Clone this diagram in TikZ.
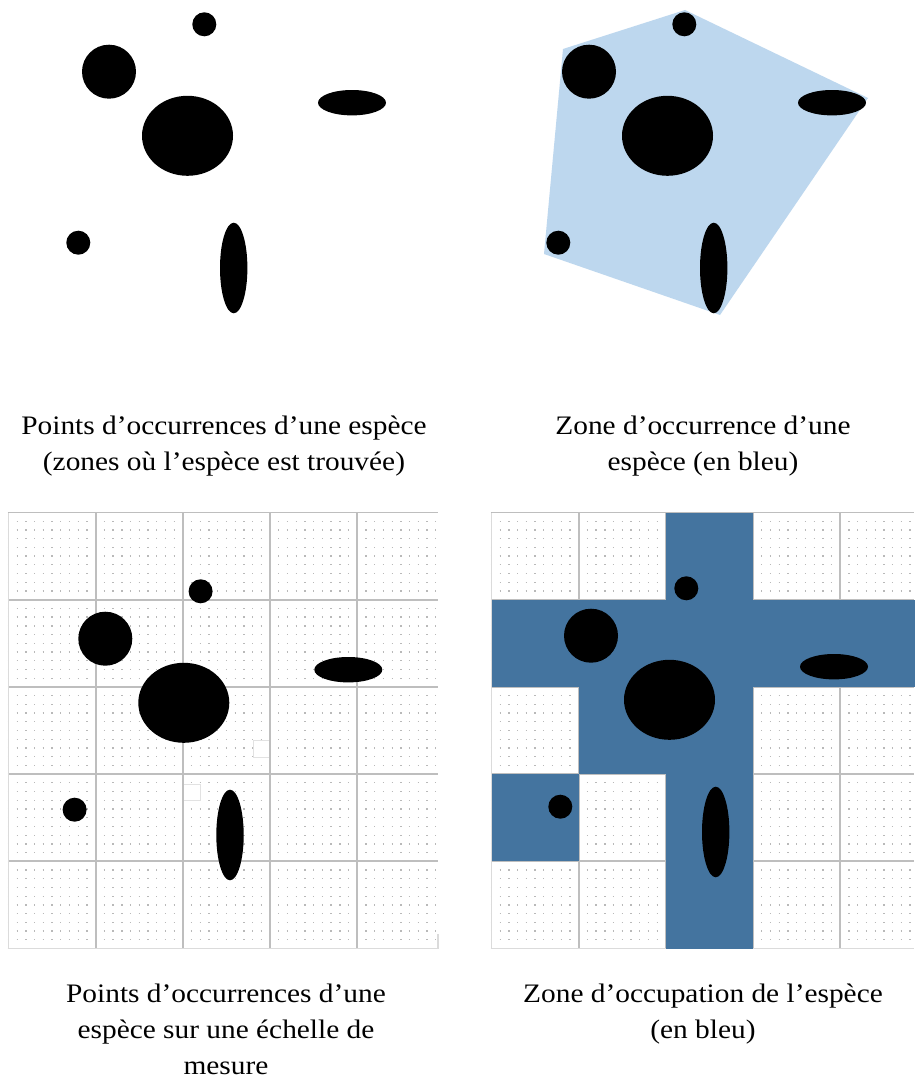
\documentclass[tikz,border=0pt]{standalone}
\usepackage{fontspec}
\setmainfont{Liberation Serif}[FakeStretch=1.1]
\definecolor{zoneblue}{RGB}{189, 215, 238}
\definecolor{cellblue}{RGB}{68, 116, 159}
\definecolor{gridgray}{RGB}{190, 190, 190}
\definecolor{dotgray}{RGB}{185, 185, 185}
\tikzset{
	blob/.style={fill=black},
	finedots/.style={draw=dotgray, line width=1.3pt, dash pattern=on 1.3pt off 7.42pt},
	gridline/.style={draw=gridgray, line width=1.8pt},
	gridframe/.style={draw=gridgray!55, line width=1.2pt},
	faintbox/.style={draw=gridgray!45, fill=white, line width=0.8pt},
	occzone/.style={fill=zoneblue},
	occcell/.style={fill=cellblue},
	caption/.style={align=center, anchor=base, font=\fontsize{26.7}{36}\selectfont},
}
\newcommand{\occpoints}{
	\fill[blob] (204.3,24.3) circle [radius=12pt];
	\fill[blob] (109,71.7) circle [radius=27pt];
	\fill[blob] (187.5,135.8) ellipse [x radius=45.5pt, y radius=40pt];
	\fill[blob] (352,102.7) ellipse [x radius=34pt, y radius=12.7pt];
	\fill[blob] (78.3,242.7) circle [radius=12pt];
	\fill[blob] (233.7,268) ellipse [x radius=13.7pt, y radius=45.3pt];
}

\begin{document}
\begin{tikzpicture}[x=1pt, y=-1pt]
		\useasboundingbox[fill=white] (0,0) rectangle (914,1081);
		% top row
		\fill[occzone] (563,49) -- (685,10) -- (868,98) -- (720,315) -- (544,254) -- cycle;
		\begin{scope}
			\occpoints
		\end{scope}
		\begin{scope}[shift={(480,0)}]
			\occpoints
		\end{scope}
		% bottom left grid
		\foreach \j in {0,...,50}
			\draw[finedots] (7.85,512.5+\j*8.72) -- (438,512.5+\j*8.72);
		\draw[faintbox] (253.3,740) rectangle (270,757);
		\draw[faintbox] (183.3,784) rectangle (200.7,800.7);
		\foreach \i in {1,...,4} {
			\draw[gridline] (8.5+\i*87.2,512.5) -- (8.5+\i*87.2,948.5);
			\draw[gridline] (8.5,512.5+\i*87.2) -- (438,512.5+\i*87.2);
		}
		\draw[gridline] (8.5,512.5) -- (438,512.5);
		\draw[gridframe] (8.5,512.5) -- (8.5,948.5) -- (438,948.5) -- (438,934);
		\begin{scope}[shift={(-3.7,567)}]
			\occpoints
		\end{scope}
		% bottom right grid
		\foreach \j in {0,...,50}
			\draw[finedots] (490.85,512.5+\j*8.72) -- (914,512.5+\j*8.72);
		\foreach \i in {1,...,4} {
			\draw[gridline] (491.5+\i*87.2,512.5) -- (491.5+\i*87.2,948.5);
			\draw[gridline] (491.5,512.5+\i*87.2) -- (914,512.5+\i*87.2);
		}
		\draw[gridline] (491.5,512.5) -- (914,512.5);
		\draw[gridframe] (491.5,512.5) -- (491.5,948.5) -- (914,948.5);
		\foreach \c/\r in {0/1,1/1,2/1,3/1,4/1,2/0,1/2,2/2,0/3,2/3,2/4}
			\fill[occcell] (491.5+\c*87.2,512.5+\r*87.2) rectangle ++(87.2,87.2);
		\begin{scope}[shift={(482,564)}]
			\occpoints
		\end{scope}
		% captions (base = last line)
		\node[caption] (capPoints) at (224,470) {Points d’occurrences d’une espèce\\(zones où l’espèce est trouvée)};
		\node[caption] (capZone) at (703,470) {Zone d’occurrence d’une\\espèce (en bleu)};
		\node[caption] (capScale) at (226,1074) {Points d’occurrences d’une\\espèce sur une échelle de\\mesure};
		\node[caption] (capOccup) at (703,1038) {Zone d’occupation de l’espèce\\(en bleu)};
	\end{tikzpicture}
\end{document}
